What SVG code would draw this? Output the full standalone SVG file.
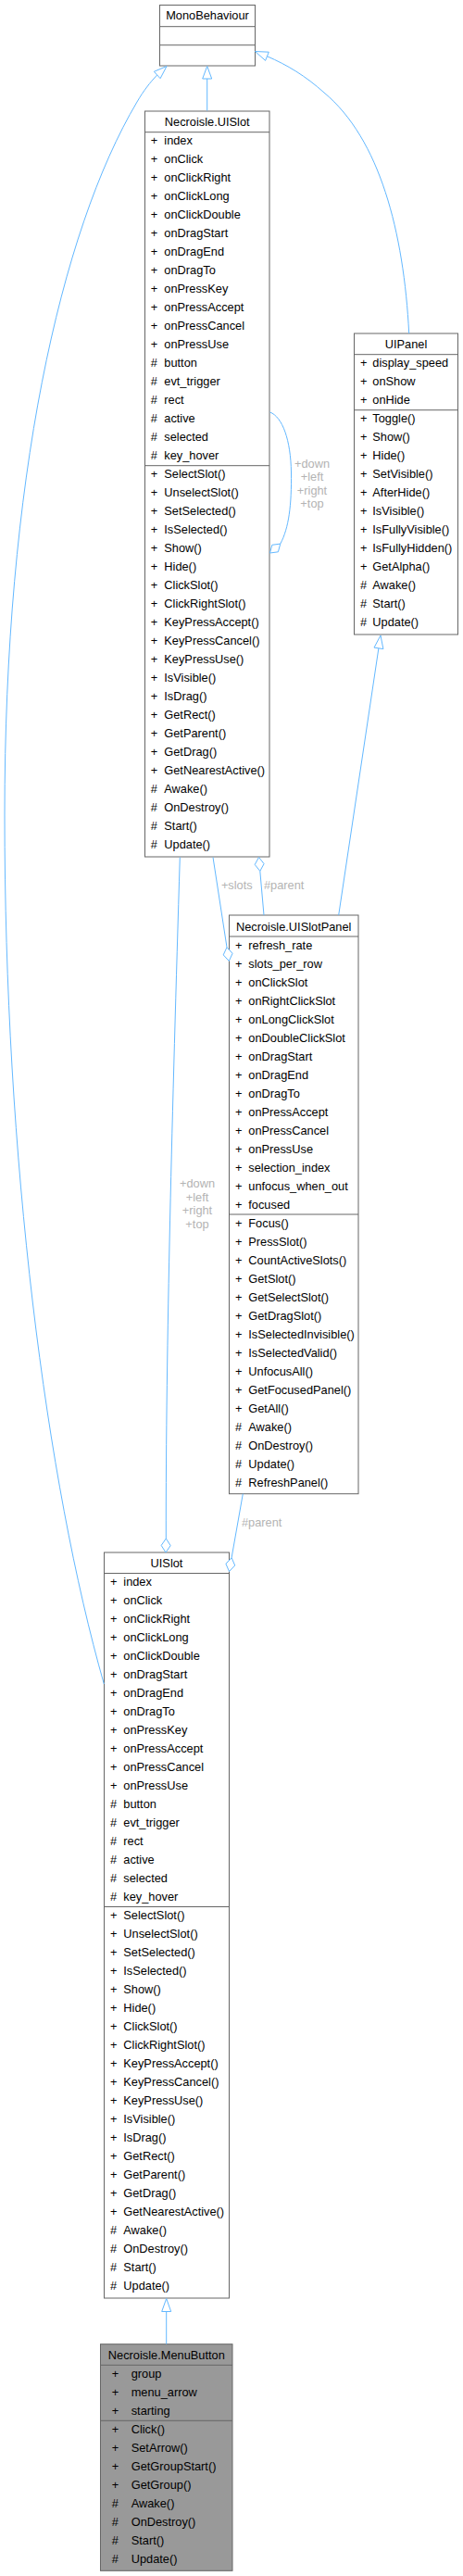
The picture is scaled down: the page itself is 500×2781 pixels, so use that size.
<svg xmlns="http://www.w3.org/2000/svg" width="500" height="2781" viewBox="0 0 500 2781">
<style>
.box{fill:#ffffff;stroke:#666666;stroke-width:1}
.hl{fill:#999999;stroke:#666666;stroke-width:1}
.sep{stroke:#666666;stroke-width:1;fill:none}
text{font-family:"Liberation Sans",Arial,Helvetica,sans-serif;font-size:12.8px;fill:#000000}
.ttl{text-anchor:middle}
.edge{fill:none;stroke:#63b8ff;stroke-width:1}
.head{fill:#ffffff;stroke:#63b8ff;stroke-width:1}
text.lbl{fill:#b3b3b3;text-anchor:middle}
text.lbls{fill:#b3b3b3}
</style>
<rect width="500" height="2781" fill="#ffffff"/>

<g id="node-MonoBehaviour">
<rect class="box" x="172.5" y="5.5" width="103" height="65.5"/>
<line class="sep" x1="172.5" y1="28.7" x2="275.5" y2="28.7"/>
<line class="sep" x1="172.5" y1="48.7" x2="275.5" y2="48.7"/>
<text class="ttl" x="224" y="21.2">MonoBehaviour</text>
</g>

<g id="node-Necroisle.UISlot">
<rect class="box" x="156.5" y="120" width="134.5" height="805"/>
<line class="sep" x1="156.5" y1="142.7" x2="291" y2="142.7"/>
<line class="sep" x1="156.5" y1="502.7" x2="291" y2="502.7"/>
<text class="ttl" x="223.7" y="136">Necroisle.UISlot</text>
<text><tspan x="162.7" y="156.2">+</tspan><tspan x="177.3">index</tspan></text>
<text><tspan x="162.7" y="176.2">+</tspan><tspan x="177.3">onClick</tspan></text>
<text><tspan x="162.7" y="196.2">+</tspan><tspan x="177.3">onClickRight</tspan></text>
<text><tspan x="162.7" y="216.2">+</tspan><tspan x="177.3">onClickLong</tspan></text>
<text><tspan x="162.7" y="236.2">+</tspan><tspan x="177.3">onClickDouble</tspan></text>
<text><tspan x="162.7" y="256.2">+</tspan><tspan x="177.3">onDragStart</tspan></text>
<text><tspan x="162.7" y="276.2">+</tspan><tspan x="177.3">onDragEnd</tspan></text>
<text><tspan x="162.7" y="296.2">+</tspan><tspan x="177.3">onDragTo</tspan></text>
<text><tspan x="162.7" y="316.2">+</tspan><tspan x="177.3">onPressKey</tspan></text>
<text><tspan x="162.7" y="336.2">+</tspan><tspan x="177.3">onPressAccept</tspan></text>
<text><tspan x="162.7" y="356.2">+</tspan><tspan x="177.3">onPressCancel</tspan></text>
<text><tspan x="162.7" y="376.2">+</tspan><tspan x="177.3">onPressUse</tspan></text>
<text><tspan x="162.7" y="396.2">#</tspan><tspan x="177.3">button</tspan></text>
<text><tspan x="162.7" y="416.2">#</tspan><tspan x="177.3">evt_trigger</tspan></text>
<text><tspan x="162.7" y="436.2">#</tspan><tspan x="177.3">rect</tspan></text>
<text><tspan x="162.7" y="456.2">#</tspan><tspan x="177.3">active</tspan></text>
<text><tspan x="162.7" y="476.2">#</tspan><tspan x="177.3">selected</tspan></text>
<text><tspan x="162.7" y="496.2">#</tspan><tspan x="177.3">key_hover</tspan></text>
<text><tspan x="162.7" y="516.2">+</tspan><tspan x="177.3">SelectSlot()</tspan></text>
<text><tspan x="162.7" y="536.2">+</tspan><tspan x="177.3">UnselectSlot()</tspan></text>
<text><tspan x="162.7" y="556.2">+</tspan><tspan x="177.3">SetSelected()</tspan></text>
<text><tspan x="162.7" y="576.2">+</tspan><tspan x="177.3">IsSelected()</tspan></text>
<text><tspan x="162.7" y="596.2">+</tspan><tspan x="177.3">Show()</tspan></text>
<text><tspan x="162.7" y="616.2">+</tspan><tspan x="177.3">Hide()</tspan></text>
<text><tspan x="162.7" y="636.2">+</tspan><tspan x="177.3">ClickSlot()</tspan></text>
<text><tspan x="162.7" y="656.2">+</tspan><tspan x="177.3">ClickRightSlot()</tspan></text>
<text><tspan x="162.7" y="676.2">+</tspan><tspan x="177.3">KeyPressAccept()</tspan></text>
<text><tspan x="162.7" y="696.2">+</tspan><tspan x="177.3">KeyPressCancel()</tspan></text>
<text><tspan x="162.7" y="716.2">+</tspan><tspan x="177.3">KeyPressUse()</tspan></text>
<text><tspan x="162.7" y="736.2">+</tspan><tspan x="177.3">IsVisible()</tspan></text>
<text><tspan x="162.7" y="756.2">+</tspan><tspan x="177.3">IsDrag()</tspan></text>
<text><tspan x="162.7" y="776.2">+</tspan><tspan x="177.3">GetRect()</tspan></text>
<text><tspan x="162.7" y="796.2">+</tspan><tspan x="177.3">GetParent()</tspan></text>
<text><tspan x="162.7" y="816.2">+</tspan><tspan x="177.3">GetDrag()</tspan></text>
<text><tspan x="162.7" y="836.2">+</tspan><tspan x="177.3">GetNearestActive()</tspan></text>
<text><tspan x="162.7" y="856.2">#</tspan><tspan x="177.3">Awake()</tspan></text>
<text><tspan x="162.7" y="876.2">#</tspan><tspan x="177.3">OnDestroy()</tspan></text>
<text><tspan x="162.7" y="896.2">#</tspan><tspan x="177.3">Start()</tspan></text>
<text><tspan x="162.7" y="916.2">#</tspan><tspan x="177.3">Update()</tspan></text>
</g>

<g id="node-UIPanel">
<rect class="box" x="382.5" y="360" width="112" height="325"/>
<line class="sep" x1="382.5" y1="382.7" x2="494.5" y2="382.7"/>
<line class="sep" x1="382.5" y1="442.7" x2="494.5" y2="442.7"/>
<text class="ttl" x="438.5" y="376">UIPanel</text>
<text><tspan x="389" y="396.2">+</tspan><tspan x="402.3">display_speed</tspan></text>
<text><tspan x="389" y="416.2">+</tspan><tspan x="402.3">onShow</tspan></text>
<text><tspan x="389" y="436.2">+</tspan><tspan x="402.3">onHide</tspan></text>
<text><tspan x="389" y="456.2">+</tspan><tspan x="402.3">Toggle()</tspan></text>
<text><tspan x="389" y="476.2">+</tspan><tspan x="402.3">Show()</tspan></text>
<text><tspan x="389" y="496.2">+</tspan><tspan x="402.3">Hide()</tspan></text>
<text><tspan x="389" y="516.2">+</tspan><tspan x="402.3">SetVisible()</tspan></text>
<text><tspan x="389" y="536.2">+</tspan><tspan x="402.3">AfterHide()</tspan></text>
<text><tspan x="389" y="556.2">+</tspan><tspan x="402.3">IsVisible()</tspan></text>
<text><tspan x="389" y="576.2">+</tspan><tspan x="402.3">IsFullyVisible()</tspan></text>
<text><tspan x="389" y="596.2">+</tspan><tspan x="402.3">IsFullyHidden()</tspan></text>
<text><tspan x="389" y="616.2">+</tspan><tspan x="402.3">GetAlpha()</tspan></text>
<text><tspan x="389" y="636.2">#</tspan><tspan x="402.3">Awake()</tspan></text>
<text><tspan x="389" y="656.2">#</tspan><tspan x="402.3">Start()</tspan></text>
<text><tspan x="389" y="676.2">#</tspan><tspan x="402.3">Update()</tspan></text>
</g>

<g id="node-Necroisle.UISlotPanel">
<rect class="box" x="247.5" y="988" width="139.5" height="624.7"/>
<line class="sep" x1="247.5" y1="1011" x2="387" y2="1011"/>
<line class="sep" x1="247.5" y1="1311" x2="387" y2="1311"/>
<text class="ttl" x="317.2" y="1005">Necroisle.UISlotPanel</text>
<text><tspan x="254" y="1025.2">+</tspan><tspan x="268.3">refresh_rate</tspan></text>
<text><tspan x="254" y="1045.2">+</tspan><tspan x="268.3">slots_per_row</tspan></text>
<text><tspan x="254" y="1065.2">+</tspan><tspan x="268.3">onClickSlot</tspan></text>
<text><tspan x="254" y="1085.2">+</tspan><tspan x="268.3">onRightClickSlot</tspan></text>
<text><tspan x="254" y="1105.2">+</tspan><tspan x="268.3">onLongClickSlot</tspan></text>
<text><tspan x="254" y="1125.2">+</tspan><tspan x="268.3">onDoubleClickSlot</tspan></text>
<text><tspan x="254" y="1145.2">+</tspan><tspan x="268.3">onDragStart</tspan></text>
<text><tspan x="254" y="1165.2">+</tspan><tspan x="268.3">onDragEnd</tspan></text>
<text><tspan x="254" y="1185.2">+</tspan><tspan x="268.3">onDragTo</tspan></text>
<text><tspan x="254" y="1205.2">+</tspan><tspan x="268.3">onPressAccept</tspan></text>
<text><tspan x="254" y="1225.2">+</tspan><tspan x="268.3">onPressCancel</tspan></text>
<text><tspan x="254" y="1245.2">+</tspan><tspan x="268.3">onPressUse</tspan></text>
<text><tspan x="254" y="1265.2">+</tspan><tspan x="268.3">selection_index</tspan></text>
<text><tspan x="254" y="1285.2">+</tspan><tspan x="268.3">unfocus_when_out</tspan></text>
<text><tspan x="254" y="1305.2">+</tspan><tspan x="268.3">focused</tspan></text>
<text><tspan x="254" y="1325.2">+</tspan><tspan x="268.3">Focus()</tspan></text>
<text><tspan x="254" y="1345.2">+</tspan><tspan x="268.3">PressSlot()</tspan></text>
<text><tspan x="254" y="1365.2">+</tspan><tspan x="268.3">CountActiveSlots()</tspan></text>
<text><tspan x="254" y="1385.2">+</tspan><tspan x="268.3">GetSlot()</tspan></text>
<text><tspan x="254" y="1405.2">+</tspan><tspan x="268.3">GetSelectSlot()</tspan></text>
<text><tspan x="254" y="1425.2">+</tspan><tspan x="268.3">GetDragSlot()</tspan></text>
<text><tspan x="254" y="1445.2">+</tspan><tspan x="268.3">IsSelectedInvisible()</tspan></text>
<text><tspan x="254" y="1465.2">+</tspan><tspan x="268.3">IsSelectedValid()</tspan></text>
<text><tspan x="254" y="1485.2">+</tspan><tspan x="268.3">UnfocusAll()</tspan></text>
<text><tspan x="254" y="1505.2">+</tspan><tspan x="268.3">GetFocusedPanel()</tspan></text>
<text><tspan x="254" y="1525.2">+</tspan><tspan x="268.3">GetAll()</tspan></text>
<text><tspan x="254" y="1545.2">#</tspan><tspan x="268.3">Awake()</tspan></text>
<text><tspan x="254" y="1565.2">#</tspan><tspan x="268.3">OnDestroy()</tspan></text>
<text><tspan x="254" y="1585.2">#</tspan><tspan x="268.3">Update()</tspan></text>
<text><tspan x="254" y="1605.2">#</tspan><tspan x="268.3">RefreshPanel()</tspan></text>
</g>

<g id="node-UISlot">
<rect class="box" x="112.5" y="1676" width="135" height="805"/>
<line class="sep" x1="112.5" y1="1698.5" x2="247.5" y2="1698.5"/>
<line class="sep" x1="112.5" y1="2058.5" x2="247.5" y2="2058.5"/>
<text class="ttl" x="180" y="1692">UISlot</text>
<text><tspan x="119" y="1712.2">+</tspan><tspan x="133.3">index</tspan></text>
<text><tspan x="119" y="1732.2">+</tspan><tspan x="133.3">onClick</tspan></text>
<text><tspan x="119" y="1752.2">+</tspan><tspan x="133.3">onClickRight</tspan></text>
<text><tspan x="119" y="1772.2">+</tspan><tspan x="133.3">onClickLong</tspan></text>
<text><tspan x="119" y="1792.2">+</tspan><tspan x="133.3">onClickDouble</tspan></text>
<text><tspan x="119" y="1812.2">+</tspan><tspan x="133.3">onDragStart</tspan></text>
<text><tspan x="119" y="1832.2">+</tspan><tspan x="133.3">onDragEnd</tspan></text>
<text><tspan x="119" y="1852.2">+</tspan><tspan x="133.3">onDragTo</tspan></text>
<text><tspan x="119" y="1872.2">+</tspan><tspan x="133.3">onPressKey</tspan></text>
<text><tspan x="119" y="1892.2">+</tspan><tspan x="133.3">onPressAccept</tspan></text>
<text><tspan x="119" y="1912.2">+</tspan><tspan x="133.3">onPressCancel</tspan></text>
<text><tspan x="119" y="1932.2">+</tspan><tspan x="133.3">onPressUse</tspan></text>
<text><tspan x="119" y="1952.2">#</tspan><tspan x="133.3">button</tspan></text>
<text><tspan x="119" y="1972.2">#</tspan><tspan x="133.3">evt_trigger</tspan></text>
<text><tspan x="119" y="1992.2">#</tspan><tspan x="133.3">rect</tspan></text>
<text><tspan x="119" y="2012.2">#</tspan><tspan x="133.3">active</tspan></text>
<text><tspan x="119" y="2032.2">#</tspan><tspan x="133.3">selected</tspan></text>
<text><tspan x="119" y="2052.2">#</tspan><tspan x="133.3">key_hover</tspan></text>
<text><tspan x="119" y="2072.2">+</tspan><tspan x="133.3">SelectSlot()</tspan></text>
<text><tspan x="119" y="2092.2">+</tspan><tspan x="133.3">UnselectSlot()</tspan></text>
<text><tspan x="119" y="2112.2">+</tspan><tspan x="133.3">SetSelected()</tspan></text>
<text><tspan x="119" y="2132.2">+</tspan><tspan x="133.3">IsSelected()</tspan></text>
<text><tspan x="119" y="2152.2">+</tspan><tspan x="133.3">Show()</tspan></text>
<text><tspan x="119" y="2172.2">+</tspan><tspan x="133.3">Hide()</tspan></text>
<text><tspan x="119" y="2192.2">+</tspan><tspan x="133.3">ClickSlot()</tspan></text>
<text><tspan x="119" y="2212.2">+</tspan><tspan x="133.3">ClickRightSlot()</tspan></text>
<text><tspan x="119" y="2232.2">+</tspan><tspan x="133.3">KeyPressAccept()</tspan></text>
<text><tspan x="119" y="2252.2">+</tspan><tspan x="133.3">KeyPressCancel()</tspan></text>
<text><tspan x="119" y="2272.2">+</tspan><tspan x="133.3">KeyPressUse()</tspan></text>
<text><tspan x="119" y="2292.2">+</tspan><tspan x="133.3">IsVisible()</tspan></text>
<text><tspan x="119" y="2312.2">+</tspan><tspan x="133.3">IsDrag()</tspan></text>
<text><tspan x="119" y="2332.2">+</tspan><tspan x="133.3">GetRect()</tspan></text>
<text><tspan x="119" y="2352.2">+</tspan><tspan x="133.3">GetParent()</tspan></text>
<text><tspan x="119" y="2372.2">+</tspan><tspan x="133.3">GetDrag()</tspan></text>
<text><tspan x="119" y="2392.2">+</tspan><tspan x="133.3">GetNearestActive()</tspan></text>
<text><tspan x="119" y="2412.2">#</tspan><tspan x="133.3">Awake()</tspan></text>
<text><tspan x="119" y="2432.2">#</tspan><tspan x="133.3">OnDestroy()</tspan></text>
<text><tspan x="119" y="2452.2">#</tspan><tspan x="133.3">Start()</tspan></text>
<text><tspan x="119" y="2472.2">#</tspan><tspan x="133.3">Update()</tspan></text>
</g>

<g id="node-Necroisle.MenuButton">
<rect class="hl" x="108.5" y="2530.7" width="142.5" height="244.6"/>
<line class="sep" x1="108.5" y1="2553.3" x2="251" y2="2553.3"/>
<line class="sep" x1="108.5" y1="2613.3" x2="251" y2="2613.3"/>
<text class="ttl" x="179.8" y="2547">Necroisle.MenuButton</text>
<text><tspan x="120.7" y="2567.2">+</tspan><tspan x="141.7">group</tspan></text>
<text><tspan x="120.7" y="2587.2">+</tspan><tspan x="141.7">menu_arrow</tspan></text>
<text><tspan x="120.7" y="2607.2">+</tspan><tspan x="141.7">starting</tspan></text>
<text><tspan x="120.7" y="2627.2">+</tspan><tspan x="141.7">Click()</tspan></text>
<text><tspan x="120.7" y="2647.2">+</tspan><tspan x="141.7">SetArrow()</tspan></text>
<text><tspan x="120.7" y="2667.2">+</tspan><tspan x="141.7">GetGroupStart()</tspan></text>
<text><tspan x="120.7" y="2687.2">+</tspan><tspan x="141.7">GetGroup()</tspan></text>
<text><tspan x="120.7" y="2707.2">#</tspan><tspan x="141.7">Awake()</tspan></text>
<text><tspan x="120.7" y="2727.2">#</tspan><tspan x="141.7">OnDestroy()</tspan></text>
<text><tspan x="120.7" y="2747.2">#</tspan><tspan x="141.7">Start()</tspan></text>
<text><tspan x="120.7" y="2767.2">#</tspan><tspan x="141.7">Update()</tspan></text>
</g>

<g id="connectors">
<!-- Necroisle.UISlot -> MonoBehaviour -->
<path class="edge" d="M223.7,119.5 L223.7,85"/>
<polygon class="head" points="223.7,71.5 228.7,85 218.7,85"/>
<!-- UISlot -> MonoBehaviour -->
<path class="edge" d="M112.3,1818 C50,1600 5,1250 5,880 C5,520 65,250 148,110 C155,98 162,89 169.7,81"/>
<polygon class="head" points="180,71.5 173.1,84.7 166.3,77.3"/>
<!-- UIPanel -> MonoBehaviour -->
<path class="edge" d="M441.7,360 C436,250 410,150 350,100 C330,82 310,70 288.5,60.8"/>
<polygon class="head" points="275.5,55.5 290.3,56.2 286.6,65.4"/>
<!-- UISlotPanel -> UIPanel -->
<path class="edge" d="M365.7,988 L408.9,699.8"/>
<polygon class="head" points="411,686 413.9,700.6 404,699.1"/>
<!-- MenuButton -> UISlot -->
<path class="edge" d="M179.7,2530.7 L179.7,2495.5"/>
<polygon class="head" points="179.7,2481.5 184.7,2495.5 174.7,2495.5"/>
<!-- self loop on Necroisle.UISlot -->
<path class="edge" d="M291.5,445 C305,450 314,475 314.5,510 C315,545 312,570 302.75,587.1"/>
<polygon class="head" points="291.5,597 293.8,588.3 302.75,587.1 300.4,595.8"/>
<text class="lbl" x="337" y="504.5">+down</text>
<text class="lbl" x="337" y="518.8">+left</text>
<text class="lbl" x="337" y="533.5">+right</text>
<text class="lbl" x="337" y="547.8">+top</text>
<!-- #parent: UISlotPanel -> Necroisle.UISlot -->
<path class="edge" d="M285,988 L280.8,940.4"/>
<polygon class="head" points="279.5,925.5 285.1,932.5 280.8,940.4 275.2,933.4"/>
<text class="lbls" x="285" y="960.2">#parent</text>
<!-- +slots: Necroisle.UISlot -> UISlotPanel -->
<path class="edge" d="M230,925.5 L245,1022.7"/>
<polygon class="head" points="247.3,1037.5 241.2,1030.9 245,1022.7 251.1,1029.3"/>
<text class="lbl" x="255.8" y="960.2">+slots</text>
<!-- #parent: UISlotPanel -> UISlot -->
<path class="edge" d="M262.3,1612.7 L250.1,1681.7"/>
<polygon class="head" points="247.5,1696.5 243.9,1688.2 250.1,1681.7 253.7,1690"/>
<text class="lbls" x="261" y="1647.8">#parent</text>
<!-- +down/+left/+right/+top: Necroisle.UISlot -> UISlot -->
<path class="edge" d="M194.3,925.5 C186,1200 179,1450 179.3,1661"/>
<polygon class="head" points="179,1676 174.15,1668.4 179.3,1661 184.15,1668.6"/>
<text class="lbl" x="213" y="1281.8">+down</text>
<text class="lbl" x="213" y="1296.8">+left</text>
<text class="lbl" x="213" y="1311.2">+right</text>
<text class="lbl" x="213" y="1325.8">+top</text>
</g>
</svg>
